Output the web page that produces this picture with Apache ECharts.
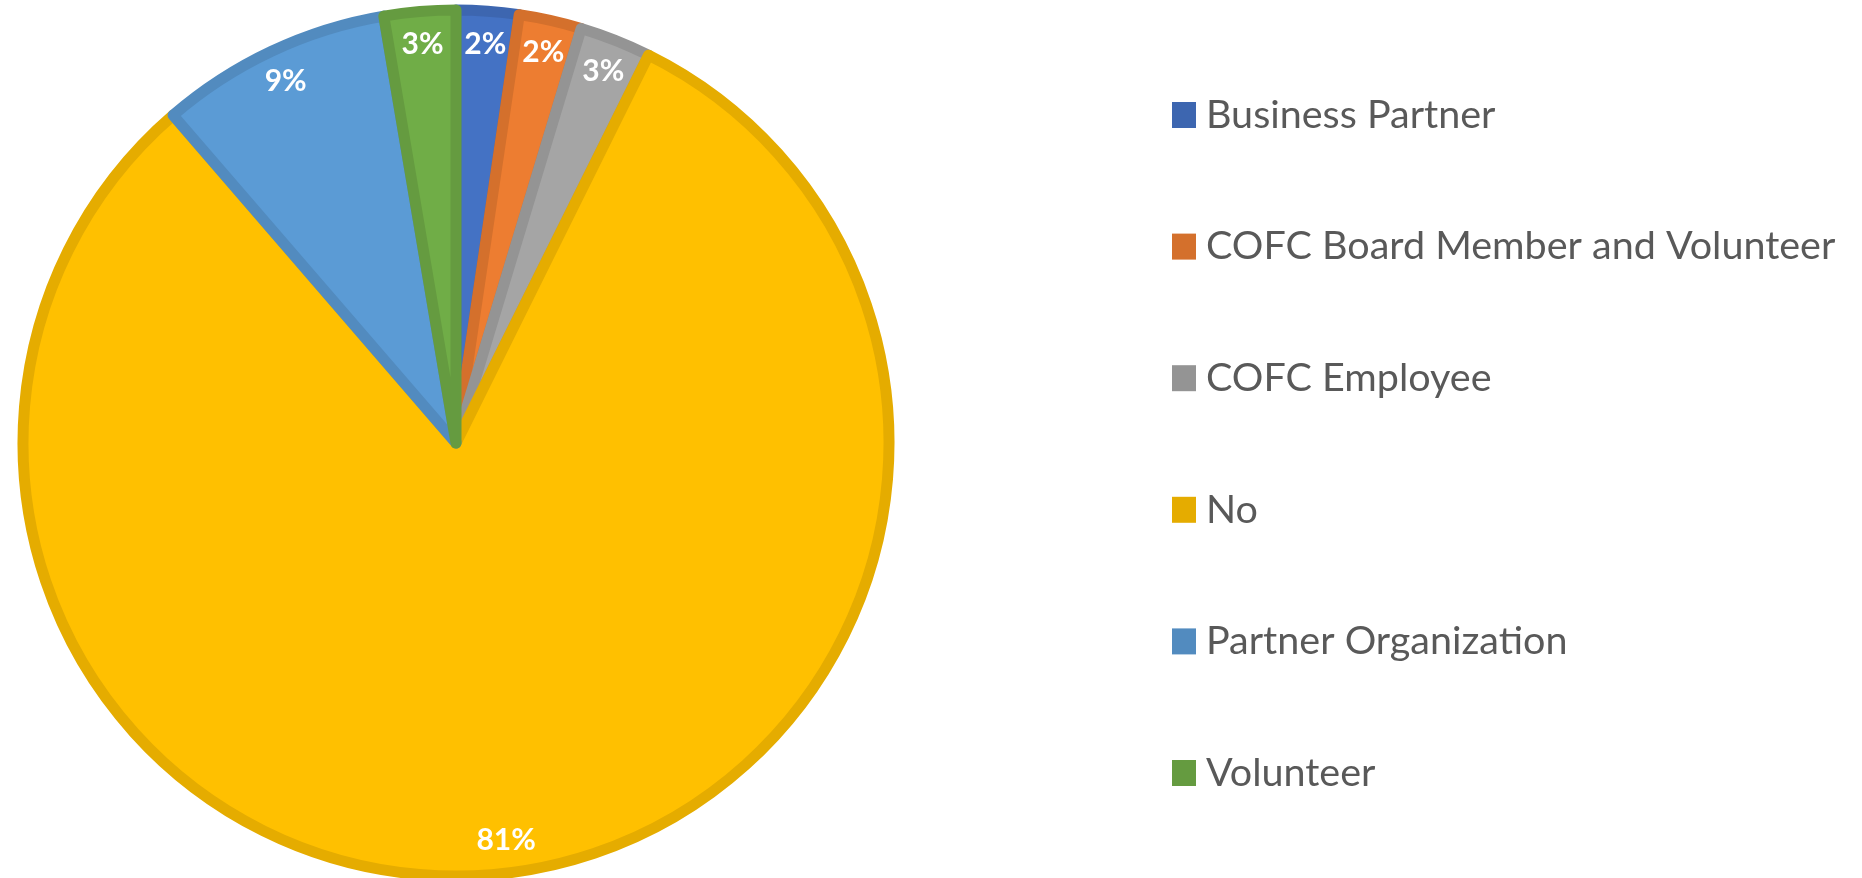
<!DOCTYPE html>
<html>
<head>
<meta charset="utf-8">
<script src="https://cdn.jsdelivr.net/npm/echarts@6/dist/echarts.min.js"></script>
<style>
  html, body { margin: 0; padding: 0; background: #fff; }
  #container { width: 1862px; height: 878px; }
</style>
</head>
<body>
<div id="container"></div>
<script>
const categories = ['Business Partner', 'COFC Board Member and Volunteer', 'COFC Employee', 'No', 'Partner Organization', 'Volunteer'];
const counts = [7, 7, 8, 244, 26, 8];
const fillColors = ['#4472C4', '#ED7D31', '#A5A5A5', '#FFC000', '#5B9BD5', '#70AD47'];
const edgeColors = ['#3D66B0', '#D4702C', '#949494', '#E5AC00', '#528BBF', '#659B40'];

const pieData = categories.map((name, i) => ({
    name: name,
    value: counts[i],
    itemStyle: {color: fillColors[i], borderColor: edgeColors[i]}
}));
const labelData = categories.map((name, i) => ({name: name, value: counts[i]}));

const myChart = echarts.init(document.getElementById('container'));
myChart.setOption({
    animation: false,
    legend: {
        orient: 'vertical',
        left: 1172,
        top: 95,
        padding: 0,
        data: categories.map((name, i) => ({
            name: name,
            itemStyle: {color: edgeColors[i], borderWidth: 0}
        })),
        itemWidth: 24,
        itemHeight: 26,
        itemGap: 91.6,
        icon: 'rect',
        selectedMode: false,
        textStyle: {
            fontFamily: 'Lato',
            fontSize: 39.5,
            lineHeight: 40,
            color: '#595959',
            padding: [0, 0, 0, 5]
        }
    },
    series: [
        {
            type: 'pie',
            center: [456, 443],
            radius: [0, 433],
            startAngle: 90,
            clockwise: true,
            silent: true,
            data: pieData,
            itemStyle: {borderWidth: 11},
            label: {show: false},
            labelLine: {show: false}
        },
        {
            type: 'pie',
            center: [456, 443],
            radius: [361, 433],
            startAngle: 90,
            clockwise: true,
            silent: true,
            percentPrecision: 0,
            data: labelData,
            itemStyle: {color: 'rgba(0,0,0,0)', borderWidth: 0},
            label: {
                show: true,
                position: 'inside',
                formatter: '{d}%',
                color: '#fff',
                fontFamily: 'Lato',
                fontWeight: 'bold',
                fontSize: 30
            },
            labelLine: {show: false}
        }
    ]
});
</script>
</body>
</html>
